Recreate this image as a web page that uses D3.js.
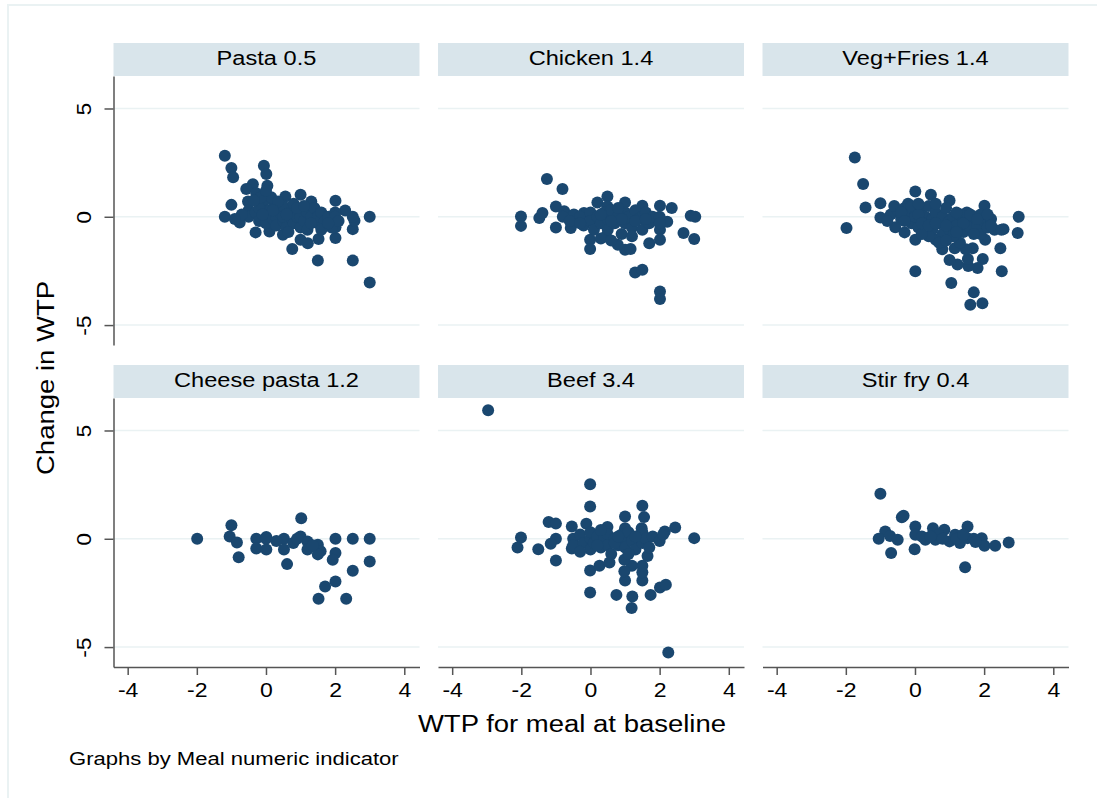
<!DOCTYPE html>
<html>
<head>
<meta charset="utf-8">
<script src="https://cdn.jsdelivr.net/npm/d3@7"></script>
<style>
  html, body { margin: 0; padding: 0; background: #ffffff; }
  svg { display: block; }
  text { font-family: "Liberation Sans", Arial, Helvetica, sans-serif; fill: #000; }
</style>
</head>
<body>
<svg id="chart" width="1097" height="798"></svg>
<script>
// ---------------- data ----------------
const meals = ["Pasta 0.5", "Chicken 1.4", "Veg+Fries 1.4", "Cheese pasta 1.2", "Beef 3.4", "Stir fry 0.4"];

const pasta = [[-1.19,2.82],[-1.0,2.25],[-0.95,1.83],[-0.06,2.36],[0.01,1.97],[0.04,1.43],[-0.38,1.5],[-0.57,1.28],[-0.28,1.09],[0.56,0.94],[1.0,1.02],[1.31,0.71],[2.01,0.74],[-1.0,0.55],[-1.19,0],[-0.76,-0.26],[-0.3,-0.72],[0.1,-0.68],[0.49,-0.83],[0.76,-1.49],[1.0,-1.06],[1.21,-1.22],[1.52,-1.03],[1.5,-2.02],[2.01,-0.98],[2.01,-0.48],[2.51,-0.57],[2.56,-0.18],[2.51,0],[2.29,0.29],[2.51,-2.02],[3.0,0],[3.0,-3.03],[-0.52,0.71],[-0.5,0.3],
  [-0.5,0],[-0.3,0.2],[-0.2,-0.2],[-0.1,0.5],[0,0],[0,-0.3],[0,0.8],[0.1,0.3],[0.2,-0.1],[0.25,0.5],[0.3,0],[0.3,-0.4],[0.4,0.2],[0.5,-0.2],[0.5,0.5],[0.5,0],[0.6,-0.5],[0.7,0.2],[0.75,-0.1],[0.8,0.6],[0.8,-0.3],[0.9,0],[1.0,0.3],[1.0,-0.5],[1.0,0],[1.1,-0.2],[1.2,0.2],[1.2,-0.6],[1.3,0],[1.4,0.4],[1.5,-0.3],[1.5,0],[1.6,0.2],[1.7,-0.2],[1.8,0],[1.9,-0.5],[2.0,0.2],[2.0,0],[2.1,-0.2],[-0.7,0.1],[-0.9,-0.1],[0.15,0.9],[0.35,0.7],[1.6,-0.6],[0.65,-0.7],[-0.2,0.4],[-0.15,0.9],[-0.35,0.75],[0,1.2],
  [0.2,0.3],[0.6,0.1],[1.3,-0.3],[1.8,-0.3],[0.9,0.4],[-0.1,0.1],[1.1,0.5]];

const chicken = [[-1.26,1.74],[-0.81,1.28],[-2.01,0.01],[-2.01,-0.42],[-1.48,-0.06],[-1.39,0.17],[-1.0,0.48],[-1.0,-0.49],[-0.76,0.25],[-0.57,-0.52],[-0.48,0.1],[-0.19,0.17],[-0.01,-1.06],[-0.01,-1.49],[0.2,0.66],[0.49,0.94],[0.49,0.48],[1.0,0.66],[1.5,0.51],[2.01,0.51],[2.35,0.40],[2.9,0.05],[3.03,0],[2.69,-0.75],[3.0,-1.03],[2.01,-0.6],[2.01,-1.06],[1.7,-1.22],[1.0,-1.52],[1.16,-1.49],[0.79,-1.29],[0.45,-0.91],[1.29,-2.57],[1.5,-2.45],[2.01,-3.45],[2.01,-3.8],[2.22,-0.23],
  [-0.8,0],[-0.6,-0.2],[-0.3,0],[-0.2,-0.4],[0,0.2],[0,-0.2],[0.1,-0.6],[0.2,0],[0.3,-0.3],[0.4,0.2],[0.5,-0.1],[0.5,-0.6],[0.6,0.3],[0.7,-0.3],[0.8,0],[0.9,-0.8],[1.0,0.2],[1.0,-0.3],[1.1,0],[1.2,-0.5],[1.3,0.3],[1.4,-0.1],[1.5,0],[1.5,-0.6],[1.6,0.2],[1.7,-0.3],[1.8,0],[2.0,0],[2.0,-0.3],[0.3,-1.0],[0.6,-1.1],[-0.3,-0.3],[1.2,-0.9],[0.8,0.4],
  [0.3,0.1],[0.9,-0.1],[1.3,-0.2],[0.6,-0.2],[1.6,-0.1]];

const vegFries = [[-1.74,2.74],[-1.5,1.51],[-1.43,0.43],[-1.98,-0.52],[-1.0,0.63],[-1.0,-0.03],[-0.57,-0.48],[-0.3,-0.72],[0.01,1.17],[0.46,1.02],[1.0,0.75],[2.01,0.51],[0.01,-1.06],[0.01,-2.52],[1.05,-3.06],[2.47,-1.45],[2.51,-2.52],[3.0,0],[2.97,-0.75],[2.56,-0.57],[1.7,-3.49],[1.6,-4.06],[1.95,-3.99],[1.96,-1.95],[1.81,-2.36],[1.54,-2.27],[1.23,-2.2],[1.0,-2.0],[1.53,-1.95],[1.67,-1.45],[1.47,-1.5],[1.15,-1.45],[0.79,-1.5],[0.6,-1.06],[0.97,-0.91],[2.03,-1.06],
  [-0.7,0.1],[-0.5,0.3],[-0.4,-0.1],[-0.3,0.4],[-0.2,0],[-0.1,-0.3],[0,0.3],[0,0],[0.1,-0.5],[0.2,0.4],[0.3,0],[0.3,-0.3],[0.4,0.5],[0.5,-0.1],[0.5,-0.6],[0.6,0.2],[0.7,-0.3],[0.8,0],[0.8,-0.8],[0.9,0.4],[1.0,-0.2],[1.0,-0.6],[1.1,0],[1.2,-0.4],[1.3,0.1],[1.4,-0.7],[1.5,-0.2],[1.5,0.2],[1.6,-0.5],[1.7,0],[1.8,-0.4],[1.9,-0.8],[2.0,-0.2],[2.1,-0.5],[2.2,-0.1],[2.3,-0.6],[0.4,-0.9],[0.7,-1.2],[1.3,-1.2],[-0.8,-0.2],[0.2,-0.8],[1.1,-0.9],[1.9,0.1],[2.5,-0.6],[-0.2,0.6],[0.6,0.6],
  [-0.6,0.5],[-0.4,0.2],[-0.1,0.5],[0.1,0.1],[0.2,-0.3],[0.4,-0.4],[0.6,-0.3],[0.9,-0.4],[1.2,0.2],[1.4,-0.3],[1.6,0.1],[1.8,-0.1],[2.1,0.1],[2.2,-0.4],[0.9,-1.1],[1.2,-0.7],[1.7,-0.8],[0.1,0.6],[-0.3,-0.2]];

const cheesePasta = [[-1.99,0],[-1.0,0.62],[-1.05,0.1],[-0.84,-0.17],[-0.79,-0.85],[-0.28,0],[-0.28,-0.45],[0.01,0.08],[0.01,-0.49],[0.52,0],[0.52,-0.5],[0.61,-1.17],[1.02,0.95],[1.0,0.1],[0.79,-0.2],[1.2,-0.12],[1.2,-0.5],[1.5,-0.28],[1.58,-0.57],[1.5,-0.72],[2.01,0],[2.01,-0.66],[1.93,-0.97],[2.51,0],[3.0,0],[3.0,-1.05],[2.51,-1.48],[2.01,-1.97],[1.71,-2.2],[1.52,-2.77],[2.32,-2.77],[0.0,0.0],[0.3,-0.1],[0.9,0.0],[1.35,-0.3]];

const beef = [[-2.96,5.93],[-0.01,2.52],[-0.01,1.49],[1.5,1.52],[1.55,1.0],[1.0,1.03],[-1.21,0.77],[-1.0,0.7],[-0.54,0.57],[-0.12,0.69],[0.49,0.54],[1.0,0.49],[1.48,0.49],[2.45,0.52],[2.15,0.34],[-2.01,0.06],[-2.11,-0.4],[-1.51,-0.48],[3.0,0.03],[-1.0,-1.0],[-1.0,0],[-1.15,-0.23],[-0.01,-1.46],[-0.01,-2.48],[0.75,-2.59],[1.21,-2.66],[1.19,-3.2],[1.74,-2.59],[2.01,-2.25],[2.18,-2.12],[2.25,-5.25],[1.0,-1.93],[1.5,-1.93],[1.5,-1.55],[1.5,-1.25],[1.2,-1.25],[0.98,-0.97],[0.26,-1.25],[0.55,-1.1],[0.98,-1.5],[1.65,-0.8],[-0.54,-0.45],
  [-0.5,0],[-0.5,-0.3],[-0.3,0.2],[-0.2,-0.2],[0,0],[0,0.3],[0,-0.5],[0.1,-0.2],[0.2,0.1],[0.3,-0.4],[0.4,0],[0.5,0.2],[0.5,-0.3],[0.6,-0.7],[0.7,0],[0.8,-0.3],[0.9,0.2],[1.0,0],[1.0,-0.4],[1.1,0.3],[1.2,-0.1],[1.3,-0.5],[1.4,0.1],[1.5,-0.2],[1.5,0.3],[1.6,0],[1.7,-0.4],[1.8,0.1],[2.0,-0.1],[2.1,0.2],[-0.3,-0.6],[0.3,0.4],[1.1,-0.7],
  [0.2,-0.3],[0.7,-0.2],[1.3,0.1],[0.8,0.1]];

const stirFry = [[-1.0,2.08],[-0.38,0.99],[-0.33,1.06],[-0.86,0.34],[-1.05,0],[-0.72,0.13],[-0.5,-0.05],[-0.69,-0.66],[0.01,0.57],[0.01,0.19],[-0.01,-0.48],[0.3,-0.05],[0.52,0.49],[0.59,-0.05],[0.85,0.42],[1.0,-0.12],[1.16,0.19],[1.3,-0.2],[1.52,0.57],[1.52,0.03],[1.45,-1.31],[1.93,0.03],[2.01,-0.32],[2.32,-0.32],[2.71,-0.17],[0.68,0.19],[0.2,0.1],[0.8,0],[1.2,0],[1.7,0],[0.45,0.1],[1.4,0.2],[1.75,-0.15]];

const series = [pasta, chicken, vegFries, cheesePasta, beef, stirFry];
const xTicks = [-4, -2, 0, 2, 4];
const yTicks = [-5, 0, 5];
const xDomain = [-4.41, 4.44];
const yDomain = [-5.92, 6.5];

const xTitle = "WTP for meal at baseline";
const yTitle = "Change in WTP";
const note = "Graphs by Meal numeric indicator";

// ---------------- layout ----------------
const svg = d3.select("#chart");
const panelLefts = [113.5, 438, 762.5];
const panelW = 306;
const rowTops = [76, 398];
const plotH = 269;
const headerH = 33;
const navy = "#1a476f";
const gridCol = "#eaf2f3";
const axisCol = "#555555";
const widen = 1.18;

svg.append("rect").attr("x", 8).attr("y", 5).attr("width", 1100).attr("height", 800)
  .attr("fill", "#ffffff").attr("stroke", gridCol).attr("stroke-width", 2);

series.forEach((pts, i) => {
  const col = i % 3, row = Math.floor(i / 3);
  const left = panelLefts[col], top = rowTops[row];
  const x = d3.scaleLinear().domain(xDomain).range([left, left + panelW]);
  const y = d3.scaleLinear().domain(yDomain).range([top + plotH, top]);
  const g = svg.append("g");

  // header strip
  g.append("rect").attr("x", left).attr("y", top - headerH).attr("width", panelW).attr("height", headerH)
    .attr("fill", "#d9e5eb");
  g.append("text").attr("class", "w").attr("x", left + panelW / 2).attr("y", top - 11)
    .attr("text-anchor", "middle").attr("font-size", 20).text(meals[i]);

  // grid lines
  g.selectAll("line.grid").data(yTicks).join("line").attr("class", "grid")
    .attr("x1", left).attr("x2", left + panelW)
    .attr("y1", d => y(d)).attr("y2", d => y(d))
    .attr("stroke", gridCol).attr("stroke-width", 1.5);

  // points
  g.selectAll("circle").data(pts).join("circle")
    .attr("cx", d => x(d[0])).attr("cy", d => y(d[1])).attr("r", 6)
    .attr("fill", navy);

  // y axis (left column)
  if (col === 0) {
    const ya = svg.append("g").attr("transform", `translate(${left},0)`)
      .call(d3.axisLeft(y).tickValues(yTicks).tickSize(9).tickSizeOuter(0).tickFormat(d3.format("d")));
    ya.select(".domain").attr("stroke", axisCol).attr("stroke-width", 1.5);
    ya.selectAll(".tick line").attr("stroke", axisCol).attr("stroke-width", 1.5);
    ya.selectAll(".tick text").attr("class", "w").attr("x", 0).attr("dy", 0)
      .attr("transform", "translate(-22.5,0) rotate(-90)")
      .attr("text-anchor", "middle").attr("font-size", 19.5).attr("font-family", null).attr("fill", "#000")
      .text(d => d < 0 ? "-" + Math.abs(d) : d);
  }
  // x axis (bottom row)
  if (row === 1) {
    const xa = svg.append("g").attr("transform", `translate(0,${top + plotH})`)
      .call(d3.axisBottom(x).tickValues(xTicks).tickSize(8).tickSizeOuter(0).tickFormat(d => d < 0 ? "-" + Math.abs(d) : d));
    xa.select(".domain").attr("stroke", axisCol).attr("stroke-width", 1.5);
    xa.selectAll(".tick line").attr("stroke", axisCol).attr("stroke-width", 1.5);
    xa.selectAll(".tick text").attr("class", "w").attr("y", 30).attr("dy", 0)
      .attr("font-size", 19.5).attr("font-family", null).attr("fill", "#000");
  }
});

// titles
svg.append("text").attr("class", "w").attr("x", 572).attr("y", 731.5)
  .attr("text-anchor", "middle").attr("font-size", 23.3).text(xTitle);
svg.append("text").attr("class", "w").attr("transform", "translate(54,378) rotate(-90)")
  .attr("text-anchor", "middle").attr("font-size", 23.3).text(yTitle);
svg.append("text").attr("class", "w").attr("x", 69).attr("y", 765)
  .attr("font-size", 18.7).text(note);

// widen glyphs to match the reference's wide Helvetica rendering
svg.selectAll("text.w").each(function () {
  const len = this.getComputedTextLength();
  d3.select(this).attr("textLength", len * widen).attr("lengthAdjust", "spacingAndGlyphs");
});
</script>
</body>
</html>
